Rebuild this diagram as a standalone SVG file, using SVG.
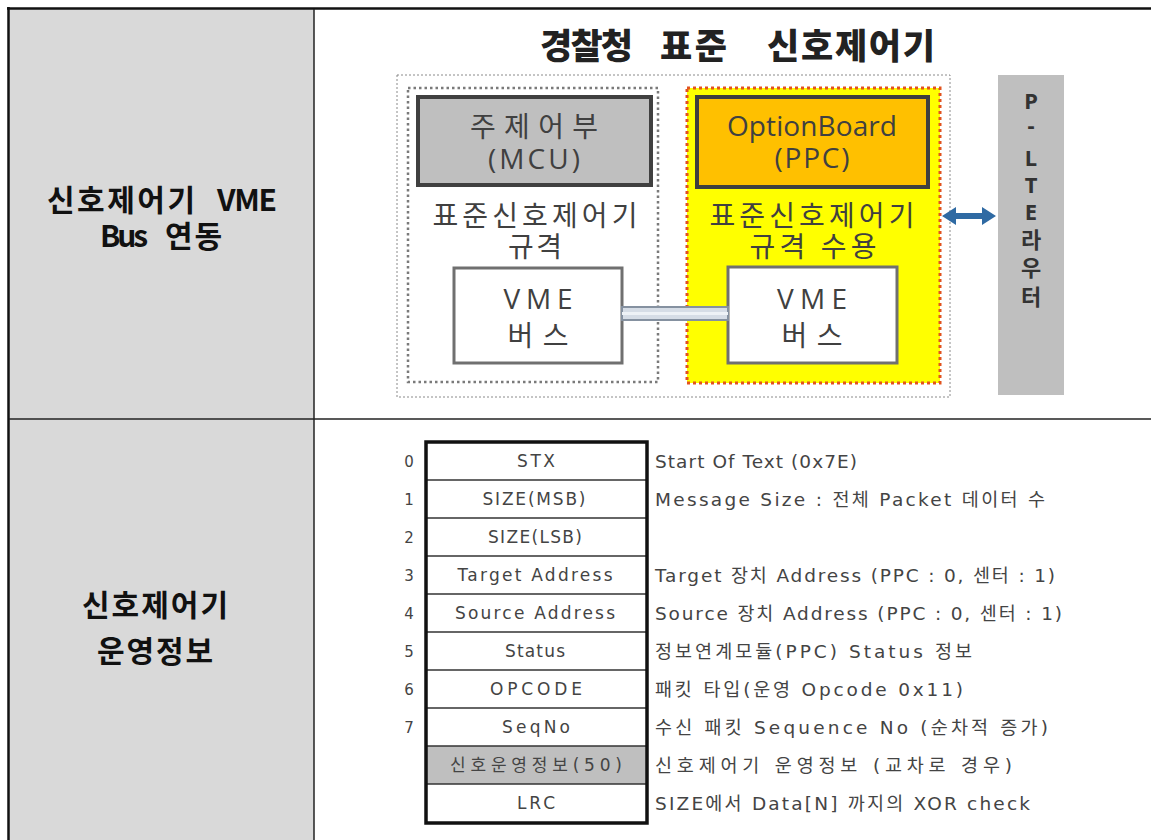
<svg xmlns="http://www.w3.org/2000/svg" width="1151" height="840" viewBox="0 0 1151 840">
<style>
.hdr{font-family:"Noto Sans CJK KR","Noto Sans",sans-serif;font-weight:bold;font-size:30px;fill:#111;}
.ttl{font-family:"Noto Sans CJK KR",sans-serif;font-weight:900;font-size:35px;fill:#222;}
.bx{font-family:"Open Sans","Noto Sans CJK KR",sans-serif;font-size:28px;fill:#404040;text-anchor:middle;}
.pl{font-family:"Noto Sans","Noto Sans CJK KR",sans-serif;font-weight:bold;font-size:22px;fill:#333;text-anchor:middle;}
.cell{font-family:"DejaVu Sans","Noto Sans CJK KR",sans-serif;font-size:17px;fill:#444;text-anchor:middle;}
.num{font-family:"DejaVu Sans",sans-serif;font-size:15px;fill:#444;text-anchor:middle;}
.desc{font-family:"DejaVu Sans","Noto Sans CJK KR",sans-serif;font-size:18.5px;fill:#444;}
.rl{stroke:#333;stroke-width:1.5;}
</style>
<rect width="1151" height="840" fill="#fff"/>
<g id="table">
<rect x="9" y="9" width="305" height="831" fill="#D9D9D9"/>
<line x1="7" y1="8.5" x2="1151" y2="8.5" stroke="#111" stroke-width="2.5"/>
<line x1="8.5" y1="7" x2="8.5" y2="840" stroke="#111" stroke-width="2.5"/>
<line x1="314" y1="9" x2="314" y2="840" stroke="#222" stroke-width="1.5"/>
<line x1="9" y1="419" x2="1151" y2="419" stroke="#222" stroke-width="1.5"/>
</g>
<g id="row1-label">
<text class="hdr" x="47" y="211" textLength="148" lengthAdjust="spacing">신호제어기</text>
<text class="hdr" x="217" y="211" textLength="60" lengthAdjust="spacing">VME</text>
<text class="hdr" x="100" y="247" textLength="48" lengthAdjust="spacing">Bus</text>
<text class="hdr" x="165" y="247" textLength="57" lengthAdjust="spacing">연동</text>
</g>
<g id="row2-label">
<text class="hdr" x="82" y="616" textLength="146" lengthAdjust="spacing">신호제어기</text>
<text class="hdr" x="97" y="662" textLength="116" lengthAdjust="spacing">운영정보</text>
</g>
<g id="title">
<text class="ttl" x="540" y="59" textLength="93" lengthAdjust="spacing">경찰청</text>
<text class="ttl" x="660" y="59" textLength="67" lengthAdjust="spacing">표준</text>
<text class="ttl" x="767" y="59" textLength="168" lengthAdjust="spacing">신호제어기</text>
</g>
<g id="outer-frame">
<rect x="397" y="75" width="553" height="322" fill="none" stroke="#8a8a8a" stroke-width="1" stroke-dasharray="2 2"/>
</g>
<g id="left-group">
<rect x="408" y="88" width="250" height="294" fill="none" stroke="#7a7a7a" stroke-width="2.5" stroke-dasharray="2.5 3"/>
<text class="bx" x="535" y="226" textLength="205" lengthAdjust="spacing">표준신호제어기</text>
<text class="bx" x="535" y="257" textLength="54" lengthAdjust="spacing">규격</text>
</g>
<g id="right-group">
<rect x="687" y="88" width="253" height="295" fill="#FFFF00" stroke="#E2531E" stroke-width="3" stroke-dasharray="3 3"/>
<text class="bx" x="812" y="226" fill="#333" textLength="205" lengthAdjust="spacing">표준신호제어기</text>
<text class="bx" x="813" y="257" fill="#333" textLength="127" lengthAdjust="spacing">규격 수용</text>
</g>
<g id="mcu">
<rect x="418" y="97" width="233" height="88" fill="#BFBFBF" stroke="#404040" stroke-width="4"/>
<text class="bx" x="534" y="137" textLength="128" lengthAdjust="spacing">주제어부</text>
<text class="bx" x="534" y="169" textLength="92" lengthAdjust="spacing">(MCU)</text>
</g>
<g id="optionboard">
<rect x="697" y="97" width="231" height="90" fill="#FFC000" stroke="#3F3F3F" stroke-width="4"/>
<text class="bx" x="812" y="136" fill="#4a3a10" textLength="170" lengthAdjust="spacing">OptionBoard</text>
<text class="bx" x="812" y="168" fill="#4a3a10" textLength="75" lengthAdjust="spacing">(PPC)</text>
</g>
<g id="vme-left">
<rect x="454" y="268" width="168" height="95" fill="#fff" stroke="#707070" stroke-width="3"/>
<text class="bx" x="538" y="309" textLength="69" lengthAdjust="spacing">VME</text>
<text class="bx" x="538" y="346" textLength="61" lengthAdjust="spacing">버스</text>
</g>
<g id="vme-right">
<rect x="728" y="267" width="169" height="96" fill="#fff" stroke="#707070" stroke-width="3"/>
<text class="bx" x="812" y="309" textLength="70" lengthAdjust="spacing">VME</text>
<text class="bx" x="812" y="346" textLength="61" lengthAdjust="spacing">버스</text>
</g>
<g id="plte">
<rect x="998" y="75" width="66" height="320" fill="#BFBFBF"/>
<text class="pl" x="1031" y="109">P</text>
<text class="pl" x="1031" y="133">-</text>
<text class="pl" x="1031" y="166">L</text>
<text class="pl" x="1031" y="193">T</text>
<text class="pl" x="1031" y="220">E</text>
<text class="pl" x="1031" y="248">라</text>
<text class="pl" x="1031" y="276">우</text>
<text class="pl" x="1031" y="305">터</text>
</g>
<g id="connectors">
<rect x="622" y="307" width="106" height="13" fill="#D6DDE6" stroke="#8591A0" stroke-width="2"/>
<line x1="622" y1="313.5" x2="728" y2="313.5" stroke="#eef2f6" stroke-width="3"/>
<polygon points="942,216 956,207 956,213 982,213 982,207 996,216 982,225 982,219 956,219 956,225" fill="#2F6AA3"/>
</g>
<g id="packet">
<rect x="426" y="746" width="221" height="38" fill="#BFBFBF"/>
<line class="rl" x1="426" y1="480" x2="647" y2="480"/>
<line class="rl" x1="426" y1="518" x2="647" y2="518"/>
<line class="rl" x1="426" y1="556" x2="647" y2="556"/>
<line class="rl" x1="426" y1="594" x2="647" y2="594"/>
<line class="rl" x1="426" y1="632" x2="647" y2="632"/>
<line class="rl" x1="426" y1="670" x2="647" y2="670"/>
<line class="rl" x1="426" y1="708" x2="647" y2="708"/>
<line class="rl" x1="426" y1="746" x2="647" y2="746"/>
<line class="rl" x1="426" y1="784" x2="647" y2="784"/>
<rect x="426" y="442" width="221" height="381" fill="none" stroke="#111" stroke-width="3.5"/>
<text class="cell" x="536" y="467" textLength="38" lengthAdjust="spacing">STX</text>
<text class="cell" x="534" y="505" textLength="103" lengthAdjust="spacing">SIZE(MSB)</text>
<text class="cell" x="535" y="543" textLength="94" lengthAdjust="spacing">SIZE(LSB)</text>
<text class="cell" x="535" y="581" textLength="155" lengthAdjust="spacing">Target Address</text>
<text class="cell" x="535" y="619" textLength="160" lengthAdjust="spacing">Source Address</text>
<text class="cell" x="535" y="657" textLength="60" lengthAdjust="spacing">Status</text>
<text class="cell" x="536" y="695" textLength="92" lengthAdjust="spacing">OPCODE</text>
<text class="cell" x="536" y="733" textLength="68" lengthAdjust="spacing">SeqNo</text>
<text class="cell" x="536" y="771" textLength="172" lengthAdjust="spacing">신호운영정보(50)</text>
<text class="cell" x="536" y="809" textLength="38" lengthAdjust="spacing">LRC</text>
<text class="num" x="409" y="467">0</text>
<text class="num" x="409" y="505">1</text>
<text class="num" x="409" y="543">2</text>
<text class="num" x="409" y="581">3</text>
<text class="num" x="409" y="619">4</text>
<text class="num" x="409" y="657">5</text>
<text class="num" x="409" y="695">6</text>
<text class="num" x="409" y="733">7</text>
<text class="desc" x="655" y="468" textLength="202" lengthAdjust="spacing">Start Of Text (0x7E)</text>
<text class="desc" x="655" y="506" textLength="390" lengthAdjust="spacing">Message Size : 전체 Packet 데이터 수</text>
<text class="desc" x="655" y="582" textLength="400" lengthAdjust="spacing">Target 장치 Address (PPC : 0, 센터 : 1)</text>
<text class="desc" x="655" y="620" textLength="407" lengthAdjust="spacing">Source 장치 Address (PPC : 0, 센터 : 1)</text>
<text class="desc" x="655" y="658" textLength="317" lengthAdjust="spacing">정보연계모듈(PPC) Status 정보</text>
<text class="desc" x="655" y="696" textLength="308" lengthAdjust="spacing">패킷 타입(운영 Opcode 0x11)</text>
<text class="desc" x="655" y="734" textLength="393" lengthAdjust="spacing">수신 패킷 Sequence No (순차적 증가)</text>
<text class="desc" x="655" y="772" textLength="357" lengthAdjust="spacing">신호제어기 운영정보 (교차로 경우)</text>
<text class="desc" x="655" y="810" textLength="375" lengthAdjust="spacing">SIZE에서 Data[N] 까지의 XOR check</text>
</g>
</svg>
